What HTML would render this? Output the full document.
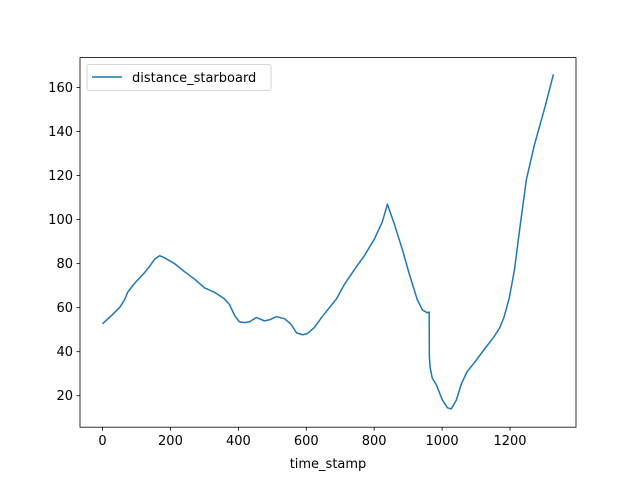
<!DOCTYPE html>
<html><head><meta charset="utf-8"><style>
body{margin:0;background:#fff;}
svg{display:block;font-family:"DejaVu Sans","Liberation Sans",sans-serif;}
</style></head><body>
<svg id="chart" width="640" height="480"></svg>
<script>
const xs=[0,29,50,65,74,94,124,138,153,168,182,212,241,271,300,330,359,374,389,403,418,433,453,477,492,512,536,556,571,589,603,624,645,668,689,712,742,771,800,824,839,860,883,904,927,942,956,962,962.5,965,971,983,1001,1016,1027,1042,1057,1074,1095,1124,1154,1170,1183,1198,1213,1228,1248,1272,1301,1328];
const ys=[52.7,56.8,60,63.6,67,71,76,78.6,82,83.6,82.7,80,76.4,73,69,67,64,61.4,56.4,53.6,53.2,53.6,55.5,54,54.5,55.9,55,52.3,48.6,47.7,48.2,51,55.5,60,64,70.5,77.3,83.6,91,99,107,97.7,86.4,75,63.6,59,57.7,58,38,32.7,28,25,18,14.5,14,18,25.5,31,35,41,47,51,56,64.5,77,95,118,134,150,166];
const xTicks=[0,200,400,600,800,1000,1200];
const yTicks=[20,40,60,80,100,120,140,160];
const L=80,R=576,T=57.6,B=427.2;
const xmin=-66.4,xmax=1394.4,ymin=5.7,ymax=173.6;
const sx=v=>L+(v-xmin)/(xmax-xmin)*(R-L);
const sy=v=>B-(v-ymin)/(ymax-ymin)*(B-T);
const NS="http://www.w3.org/2000/svg";
const svg=document.getElementById('chart');
function mk(t,a,p){const e=document.createElementNS(NS,t);for(const k in a)e.setAttribute(k,a[k]);(p||svg).appendChild(e);return e;}
const frame=mk('rect',{x:L,y:T,width:R-L,height:B-T,fill:'none',stroke:'#000','stroke-width':0.8});


xTicks.forEach(v=>{const x=sx(v);
 const l=mk('line',{x1:x,x2:x,y1:B,y2:B+3.5,stroke:'#000','stroke-width':0.8});
 
 
 const t=mk('text',{x:x,y:B+18,'text-anchor':'middle','font-size':13});t.textContent=v;
 
 });
yTicks.forEach(v=>{const y=sy(v);
 const l=mk('line',{x1:L-3.5,x2:L,y1:y,y2:y,stroke:'#000','stroke-width':0.8});
 
 
 const t=mk('text',{x:L-7,y:y+4.5,'text-anchor':'end','font-size':13});t.textContent=v;
 
 });
const xt=mk('text',{x:(L+R)/2,y:468,'text-anchor':'middle','font-size':13});xt.textContent='time_stamp';


const path=mk('path',{d:xs.map((v,i)=>(i?'L':'M')+sx(v).toFixed(2)+','+sy(ys[i]).toFixed(2)).join(''),fill:'none',stroke:'#1f77b4','stroke-width':1.5,'stroke-linejoin':'round'});


const lg=mk('g',{});


mk('rect',{x:87,y:64.5,width:184,height:26,rx:2,fill:'#fff',stroke:'#ccc','stroke-width':0.8},lg);
mk('line',{x1:92,x2:122,y1:77,y2:77,stroke:'#1f77b4','stroke-width':1.5},lg);
const lt=mk('text',{x:132,y:82,'font-size':13},lg);lt.textContent='distance_starboard';


</script>
</body></html>
